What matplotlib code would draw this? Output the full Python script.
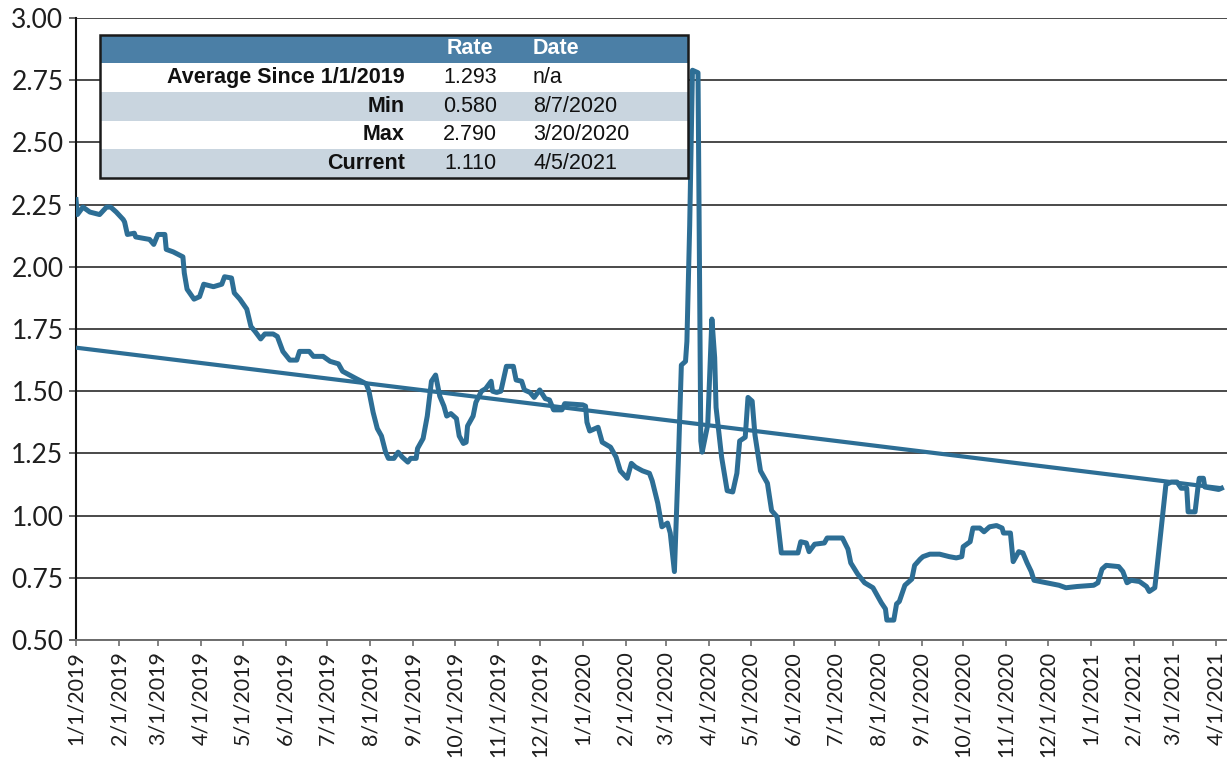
import matplotlib.pyplot as plt
import pandas as pd
from matplotlib.patches import Rectangle


# daily rate (corners of the step line)
rate_dates = [
    "2019-01-01", "2019-01-02", "2019-01-06", "2019-01-11", "2019-01-18", "2019-01-23",
    "2019-01-26", "2019-01-30", "2019-02-04", "2019-02-05", "2019-02-07", "2019-02-12",
    "2019-02-13", "2019-02-23", "2019-02-26", "2019-03-01", "2019-03-06", "2019-03-07",
    "2019-03-12", "2019-03-19", "2019-03-20", "2019-03-22", "2019-03-27", "2019-03-31",
    "2019-04-03", "2019-04-10", "2019-04-16", "2019-04-18", "2019-04-23", "2019-04-25",
    "2019-04-29", "2019-05-04", "2019-05-07", "2019-05-10", "2019-05-14", "2019-05-17",
    "2019-05-23", "2019-05-26", "2019-05-30", "2019-06-04", "2019-06-09", "2019-06-11",
    "2019-06-18", "2019-06-21", "2019-06-28", "2019-07-03", "2019-07-09", "2019-07-12",
    "2019-07-17", "2019-07-22", "2019-07-29", "2019-07-31", "2019-08-03", "2019-08-06",
    "2019-08-09", "2019-08-12", "2019-08-14", "2019-08-18", "2019-08-21", "2019-08-24",
    "2019-08-28", "2019-08-30", "2019-09-03", "2019-09-04", "2019-09-08", "2019-09-11",
    "2019-09-14", "2019-09-17", "2019-09-20", "2019-09-23", "2019-09-25", "2019-09-28",
    "2019-10-02", "2019-10-04", "2019-10-07", "2019-10-09", "2019-10-10", "2019-10-14",
    "2019-10-16", "2019-10-20", "2019-10-23", "2019-10-27", "2019-10-28", "2019-10-31",
    "2019-11-03", "2019-11-07", "2019-11-12", "2019-11-14", "2019-11-18", "2019-11-20",
    "2019-11-24", "2019-11-27", "2019-12-01", "2019-12-05", "2019-12-08", "2019-12-11",
    "2019-12-17", "2019-12-19",
    "2020-01-01", "2020-01-03", "2020-01-04", "2020-01-06", "2020-01-12", "2020-01-15",
    "2020-01-21", "2020-01-25", "2020-01-28", "2020-02-02", "2020-02-05", "2020-02-08",
    "2020-02-13", "2020-02-18", "2020-02-20", "2020-02-24", "2020-02-27", "2020-03-02",
    "2020-03-04", "2020-03-07", "2020-03-08", "2020-03-10", "2020-03-12", "2020-03-15",
    "2020-03-16", "2020-03-18", "2020-03-20", "2020-03-24", "2020-03-25", "2020-03-26",
    "2020-03-27", "2020-03-31", "2020-04-03", "2020-04-05", "2020-04-06", "2020-04-10",
    "2020-04-14", "2020-04-18", "2020-04-21", "2020-04-23", "2020-04-27", "2020-04-29",
    "2020-05-02", "2020-05-04", "2020-05-08", "2020-05-13", "2020-05-16", "2020-05-20",
    "2020-05-23", "2020-06-04", "2020-06-06", "2020-06-10", "2020-06-12", "2020-06-16",
    "2020-06-23", "2020-06-25", "2020-07-06", "2020-07-10", "2020-07-12", "2020-07-17",
    "2020-07-22", "2020-07-28", "2020-08-01", "2020-08-03", "2020-08-06", "2020-08-07",
    "2020-08-12", "2020-08-14", "2020-08-16", "2020-08-20", "2020-08-25", "2020-08-27",
    "2020-08-31", "2020-09-02", "2020-09-07", "2020-09-14", "2020-09-21", "2020-09-26",
    "2020-09-30", "2020-10-01", "2020-10-06", "2020-10-08", "2020-10-13", "2020-10-16",
    "2020-10-20", "2020-10-25", "2020-10-29", "2020-10-30", "2020-11-04", "2020-11-06",
    "2020-11-10", "2020-11-13", "2020-11-16", "2020-11-19", "2020-11-21", "2020-11-30",
    "2020-12-09", "2020-12-14", "2020-12-22",
    "2021-01-03", "2021-01-06", "2021-01-09", "2021-01-12", "2021-01-21", "2021-01-24",
    "2021-01-27", "2021-01-30", "2021-02-05", "2021-02-10", "2021-02-12", "2021-02-16",
    "2021-02-17", "2021-02-24", "2021-02-28", "2021-03-04", "2021-03-07", "2021-03-11",
    "2021-03-12", "2021-03-17", "2021-03-19", "2021-03-20", "2021-03-23", "2021-03-24",
    "2021-03-29", "2021-04-03", "2021-04-05",
]
rate_values = [
    2.27, 2.21, 2.24, 2.22, 2.21, 2.24,
    2.24, 2.22, 2.19, 2.18, 2.13, 2.135,
    2.12, 2.11, 2.09, 2.13, 2.13, 2.07,
    2.06, 2.04, 1.975, 1.91, 1.87, 1.88,
    1.93, 1.92, 1.93, 1.96, 1.955, 1.895,
    1.87, 1.83, 1.76, 1.74, 1.71, 1.73,
    1.73, 1.72, 1.66, 1.625, 1.625, 1.66,
    1.66, 1.64, 1.64, 1.62, 1.61, 1.58,
    1.565, 1.55, 1.53, 1.50, 1.415, 1.35,
    1.32, 1.255, 1.23, 1.23, 1.255, 1.235,
    1.215, 1.23, 1.23, 1.27, 1.31, 1.40,
    1.54, 1.565, 1.48, 1.44, 1.40, 1.41,
    1.39, 1.32, 1.29, 1.295, 1.36, 1.40,
    1.455, 1.50, 1.51, 1.54, 1.50, 1.495,
    1.50, 1.60, 1.60, 1.545, 1.54, 1.505,
    1.495, 1.475, 1.505, 1.47, 1.465, 1.425,
    1.425, 1.45,
    1.445, 1.44, 1.375, 1.34, 1.355, 1.295,
    1.275, 1.235, 1.18, 1.15, 1.21, 1.195,
    1.18, 1.17, 1.14, 1.05, 0.955, 0.97,
    0.93, 0.775, 0.93, 1.245, 1.605, 1.62,
    1.70, 2.165, 2.79, 2.78, 2.03, 1.30,
    1.255, 1.365, 1.79, 1.635, 1.435, 1.235,
    1.10, 1.095, 1.17, 1.30, 1.315, 1.475,
    1.46, 1.325, 1.18, 1.13, 1.02, 0.995,
    0.85, 0.85, 0.895, 0.89, 0.855, 0.885,
    0.89, 0.91, 0.91, 0.865, 0.81, 0.765,
    0.73, 0.71, 0.67, 0.65, 0.625, 0.58,
    0.58, 0.645, 0.655, 0.72, 0.745, 0.80,
    0.825, 0.835, 0.845, 0.845, 0.835, 0.83,
    0.835, 0.875, 0.895, 0.95, 0.95, 0.935,
    0.955, 0.96, 0.95, 0.93, 0.93, 0.815,
    0.855, 0.85, 0.81, 0.775, 0.74, 0.73,
    0.72, 0.71, 0.715,
    0.72, 0.73, 0.785, 0.80, 0.795, 0.775,
    0.73, 0.74, 0.735, 0.715, 0.695, 0.71,
    0.76, 1.125, 1.135, 1.135, 1.11, 1.11,
    1.015, 1.015, 1.11, 1.15, 1.15, 1.115,
    1.11, 1.105, 1.11,
]

# linear trendline end points
trend_dates = ["2019-01-01", "2021-04-05"]
trend_values = [1.675, 1.11]

y_ticks = [0.50, 0.75, 1.00, 1.25, 1.50, 1.75, 2.00, 2.25, 2.50, 2.75, 3.00]
month_ticks = pd.date_range("2019-01-01", "2021-04-01", freq="MS")

# summary box
table_header = ["Rate", "Date"]
table_labels = ["Average Since 1/1/2019", "Min", "Max", "Current"]
table_rates = ["1.293", "0.580", "2.790", "1.110"]
table_dates = ["n/a", "8/7/2020", "3/20/2020", "4/5/2021"]


W, H = 1227, 764
fig = plt.figure(figsize=(W / 100, H / 100), dpi=100)
ax = fig.add_axes([76 / W, 1 - 640 / H, 1 - 76 / W, 622 / H])

line_color = "#2d6e95"
ax.plot(pd.to_datetime(rate_dates), rate_values, color=line_color, lw=3.6,
        solid_joinstyle="round", zorder=3)
ax.plot(pd.to_datetime(trend_dates), trend_values, color=line_color, lw=3.0,
        solid_capstyle="butt", zorder=4)

ax.set_ylim(0.5, 3.0)
ax.set_xlim(pd.Timestamp("2019-01-01"), pd.Timestamp("2021-04-09"))

ax.set_yticks(y_ticks)
ax.set_yticklabels([f"{v:.2f}" for v in y_ticks])
ax.set_xticks(month_ticks)
ax.set_xticklabels([f"{d.month}/{d.day}/{d.year}" for d in month_ticks], rotation=90)

ax.yaxis.grid(True, color="#4a4a4a", lw=1.4)
ax.set_axisbelow(True)
for lab in ax.get_yticklabels():
    lab.set_family(["Lato", "DejaVu Sans"])
    lab.set_fontsize(19)
    lab.set_color("#1e1e1e")
for lab in ax.get_xticklabels():
    lab.set_family(["Lato", "DejaVu Sans"])
    lab.set_fontsize(15.5)
    lab.set_color("#1e1e1e")
ax.tick_params(axis="y", length=5, width=1.2, color="#4a4a4a", pad=4)
ax.tick_params(axis="x", length=4, width=1.2, color="#6d6d6d", pad=4)

ax.spines["top"].set_visible(False)
ax.spines["right"].set_visible(False)
ax.spines["left"].set_color("#111111")
ax.spines["left"].set_linewidth(1.5)
ax.spines["bottom"].set_color("#6d6d6d")
ax.spines["bottom"].set_linewidth(1.4)


# summary table drawn in figure pixels
def fx(x):
    return x / W


def fy(y):
    return 1 - y / H


left, right = 100, 688
row_edges = [35, 63, 92, 120.5, 149, 178]
row_fill = ["#4b7fa6", "white", "#c9d5df", "white", "#c9d5df"]
for i, col in enumerate(row_fill):
    fig.add_artist(Rectangle((fx(left), fy(row_edges[i + 1])), fx(right) - fx(left),
                             fy(row_edges[i]) - fy(row_edges[i + 1]),
                             transform=fig.transFigure, facecolor=col, edgecolor="none", zorder=5))
fig.add_artist(Rectangle((fx(left), fy(row_edges[-1])), fx(right) - fx(left),
                         fy(row_edges[0]) - fy(row_edges[-1]), transform=fig.transFigure,
                         facecolor="none", edgecolor="#1a1a1a", lw=1.8, zorder=6))

tfont = ["Liberation Sans", "DejaVu Sans"]
hy = (row_edges[0] + row_edges[1]) / 2
fig.text(fx(470), fy(hy), table_header[0], ha="center", va="center", color="white",
         fontsize=15.5, fontweight="bold", family=tfont, zorder=7)
fig.text(fx(533), fy(hy), table_header[1], ha="left", va="center", color="white",
         fontsize=15.5, fontweight="bold", family=tfont, zorder=7)
for i in range(len(table_labels)):
    yc = (row_edges[i + 1] + row_edges[i + 2]) / 2
    fig.text(fx(405), fy(yc), table_labels[i], ha="right", va="center", color="#111111",
             fontsize=15.5, fontweight="bold", family=tfont, zorder=7)
    fig.text(fx(470), fy(yc), table_rates[i], ha="center", va="center", color="#111111",
             fontsize=15.5, family=tfont, zorder=7)
    fig.text(fx(533), fy(yc), table_dates[i], ha="left", va="center", color="#111111",
             fontsize=15.5, family=tfont, zorder=7)

fig.savefig("out.png", dpi=100)
